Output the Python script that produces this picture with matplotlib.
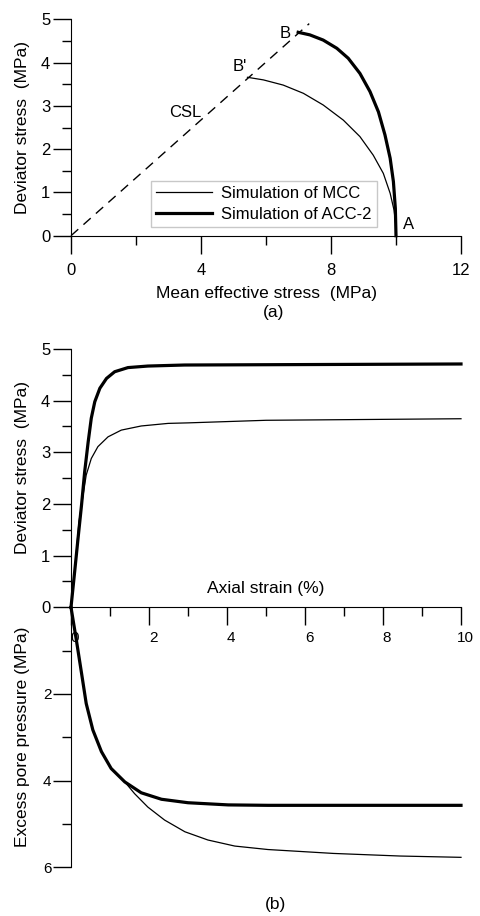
import numpy as np
import matplotlib
matplotlib.use("Agg")
import matplotlib.pyplot as plt
from matplotlib.ticker import MultipleLocator, FixedLocator
import matplotlib.transforms as mtransforms

plt.rcParams['font.family'] = ['Liberation Sans', 'DejaVu Sans']

# (a) stress paths in p'-q plane
p_mcc = [10.0, 10.0, 9.94, 9.82, 9.61, 9.30, 8.89, 8.38, 7.76, 7.15, 6.53, 5.92, 5.43]
q_mcc = [0.0, 0.21, 0.59, 0.98, 1.44, 1.86, 2.29, 2.67, 3.02, 3.29, 3.48, 3.60, 3.66]
p_acc = [10.0, 9.98, 9.92, 9.82, 9.66, 9.46, 9.20, 8.89, 8.53, 8.18, 7.76, 7.35, 6.99]
q_acc = [0.0, 0.63, 1.25, 1.79, 2.33, 2.86, 3.33, 3.75, 4.10, 4.33, 4.52, 4.64, 4.70]
csl_p = [0.0, 7.33]
csl_q = [0.0, 4.90]

# (b) deviator stress vs axial strain
eps_q_mcc = [0.0, 0.094, 0.205, 0.31, 0.39, 0.52, 0.69, 0.95, 1.29, 1.80, 2.49, 3.0, 5.0, 10.0]
q_b_mcc = [0.0, 0.69, 1.66, 2.17, 2.56, 2.88, 3.11, 3.30, 3.43, 3.51, 3.56, 3.57, 3.62, 3.65]
eps_q_acc = [0.0, 0.094, 0.18, 0.27, 0.35, 0.44, 0.52, 0.61, 0.74, 0.91, 1.12, 1.46, 1.97, 2.91, 10.0]
q_b_acc = [0.0, 0.69, 1.33, 1.98, 2.62, 3.20, 3.66, 3.98, 4.24, 4.43, 4.56, 4.64, 4.67, 4.69, 4.71]

# (b) excess pore pressure vs axial strain
eps_u_mcc = [0.0, 0.137, 0.27, 0.39, 0.56, 0.78, 1.03, 1.38, 1.63, 1.97, 2.40, 2.92, 3.51, 4.20, 5.05,
             6.73, 8.44, 10.0]
u_mcc = [0.0, 0.755, 1.52, 2.22, 2.83, 3.33, 3.72, 4.03, 4.30, 4.61, 4.91, 5.18, 5.37, 5.51, 5.59,
         5.68, 5.74, 5.77]
eps_u_acc = [0.0, 0.137, 0.27, 0.39, 0.56, 0.78, 1.03, 1.38, 1.80, 2.32, 3.0, 4.03, 5.05, 10.0]
u_acc = [0.0, 0.755, 1.52, 2.22, 2.83, 3.33, 3.72, 4.03, 4.28, 4.43, 4.51, 4.56, 4.57, 4.57]

W, H = 481, 916
fig = plt.figure(figsize=(W / 100, H / 100), dpi=100)


def frac(left, top, right, bottom):
    return [left / W, 1 - bottom / H, (right - left) / W, (bottom - top) / H]


thin = 0.9
thick = 2.3
major_len, minor_len = 13, 6.5

# ---- (a)
ax1 = fig.add_axes(frac(71, 19.3, 461, 235.7))
ax1.plot(csl_p, csl_q, color='black', lw=1.0, dashes=(7, 5), clip_on=False)
ax1.plot(p_mcc, q_mcc, color='black', lw=thin, clip_on=False, label='Simulation of MCC')
ax1.plot(p_acc, q_acc, color='black', lw=thick, clip_on=False, label='Simulation of ACC-2')
ax1.set_xlim(0, 12)
ax1.set_ylim(0, 5)
for s in ['top', 'right']:
    ax1.spines[s].set_visible(False)
ax1.xaxis.set_major_locator(MultipleLocator(4))
ax1.xaxis.set_minor_locator(FixedLocator([2, 6, 10]))
ax1.yaxis.set_major_locator(MultipleLocator(1))
ax1.yaxis.set_minor_locator(MultipleLocator(0.5))
ax1.tick_params(which='major', length=major_len, width=1, labelsize=12)
ax1.tick_params(which='minor', length=minor_len, width=1)
ax1.tick_params(axis='x', pad=7)
ax1.tick_params(axis='y', pad=2)
ax1.set_xlabel('Mean effective stress  (MPa)', fontsize=12.5, va='center')
ax1.xaxis.set_label_coords((266 - 71) / 390, (235.7 - 294) / 216.4)
ax1.set_ylabel('Deviator stress  (MPa)', fontsize=12.5, va='center')
ax1.yaxis.set_label_coords((22 - 71) / 390, (235.7 - 127.5) / 216.4)
ax1.text(6.58, 4.67, 'B', fontsize=12, ha='center', va='center')
ax1.text(5.19, 3.90, "B'", fontsize=12, ha='center', va='center')
ax1.text(3.53, 2.85, 'CSL', fontsize=12, ha='center', va='center')
ax1.text(10.38, 0.27, 'A', fontsize=12, ha='center', va='center')
leg = ax1.legend(loc='lower left', bbox_to_anchor=(0.204, 0.042), borderaxespad=0,
                 fontsize=12, handlelength=3.4, handletextpad=0.55,
                 labelspacing=0.35, borderpad=0.3, fancybox=False, framealpha=1)
leg.get_frame().set_edgecolor('#c8c8c8')
leg.get_frame().set_linewidth(1.0)
fig.text(273.5 / W, 1 - 312 / H, '(a)', fontsize=12.5, ha='center', va='center')

# ---- (b) upper: deviator stress
ax2 = fig.add_axes(frac(71, 349, 461, 607.3))
ax2.plot(eps_q_mcc, q_b_mcc, color='black', lw=thin, clip_on=False)
ax2.plot(eps_q_acc, q_b_acc, color='black', lw=thick, clip_on=False)
ax2.set_xlim(0, 10)
ax2.set_ylim(0, 5)
for s in ['top', 'right']:
    ax2.spines[s].set_visible(False)
ax2.xaxis.set_major_locator(MultipleLocator(2))
ax2.xaxis.set_minor_locator(MultipleLocator(1))
ax2.yaxis.set_major_locator(MultipleLocator(1))
ax2.yaxis.set_minor_locator(MultipleLocator(0.5))
ax2.tick_params(which='major', length=major_len, width=1)
ax2.tick_params(which='minor', length=minor_len, width=1)
ax2.tick_params(axis='y', labelsize=12, pad=2)
ax2.tick_params(axis='x', labelsize=11, pad=4)
offset = mtransforms.ScaledTranslation(4 / 100, 0, fig.dpi_scale_trans)
for lab in ax2.get_xticklabels():
    lab.set_transform(lab.get_transform() + offset)
ax2.set_xlabel('Axial strain (%)', fontsize=12.5, va='center')
ax2.xaxis.set_label_coords((266 - 71) / 390, (607.3 - 589) / 258.3)
ax2.set_ylabel('Deviator stress  (MPa)', fontsize=12.5, va='center')
ax2.yaxis.set_label_coords((22 - 71) / 390, (607.3 - 467.7) / 258.3)

# ---- (b) lower: excess pore pressure
ax3 = fig.add_axes(frac(71, 607.3, 461, 867.3))
ax3.patch.set_visible(False)
ax3.plot(eps_u_mcc, u_mcc, color='black', lw=thin, clip_on=False)
ax3.plot(eps_u_acc, u_acc, color='black', lw=thick, clip_on=False)
ax3.set_xlim(0, 10)
ax3.set_ylim(6, 0)
for s in ['top', 'right', 'bottom']:
    ax3.spines[s].set_visible(False)
ax3.set_xticks([])
ax3.yaxis.set_major_locator(FixedLocator([2, 4, 6]))
ax3.yaxis.set_minor_locator(FixedLocator([1, 3, 5]))
ax3.tick_params(which='major', length=major_len, width=1, labelsize=11, pad=1)
ax3.tick_params(which='minor', length=minor_len, width=1)
ax3.set_ylabel('Excess pore pressure (MPa)', fontsize=12.5, va='center')
ax3.yaxis.set_label_coords((22 - 71) / 390, 0.5)
fig.text(276 / W, 1 - 905 / H, '(b)', fontsize=12.5, ha='center', va='center')

fig.savefig('out.png', dpi=100)
